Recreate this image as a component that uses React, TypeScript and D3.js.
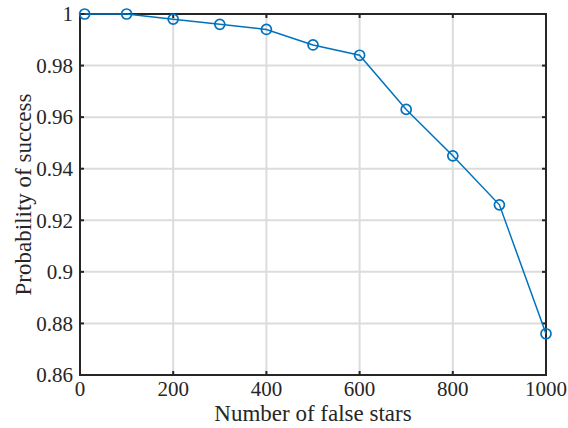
import { useEffect, useRef } from 'react';
import * as d3 from 'd3';

// false star counts and success probabilities
const falseStars = [10, 100, 200, 300, 400, 500, 600, 700, 800, 900, 1000];
const successProb = [1, 1, 0.998, 0.996, 0.994, 0.988, 0.984, 0.963, 0.945, 0.926, 0.876];
const xTicks = [0, 200, 400, 600, 800, 1000];
const yTicks = [0.86, 0.88, 0.9, 0.92, 0.94, 0.96, 0.98, 1];

const App = () => {
  const ref = useRef<SVGSVGElement>(null);

  useEffect(() => {
    const width = 568;
    const height = 428;
    const m = { top: 14, right: 22, bottom: 53, left: 80 };

    const svg = d3.select(ref.current);
    svg.selectAll('*').remove();

    const x = d3.scaleLinear().domain([0, 1000]).range([m.left, width - m.right]);
    const y = d3.scaleLinear().domain([0.86, 1]).range([height - m.bottom, m.top]);
    const font = '"Liberation Serif", "Times New Roman", serif';
    const axisColor = '#262626';

    svg.append('rect').attr('width', width).attr('height', height).attr('fill', '#fff');

    // grid
    const grid = svg.append('g').attr('stroke', '#dcdcdc').attr('stroke-width', 2);
    grid
      .selectAll('line.gx')
      .data(xTicks)
      .join('line')
      .attr('class', 'gx')
      .attr('x1', (d) => x(d))
      .attr('x2', (d) => x(d))
      .attr('y1', y(0.86))
      .attr('y2', y(1));
    grid
      .selectAll('line.gy')
      .data(yTicks)
      .join('line')
      .attr('class', 'gy')
      .attr('x1', x(0))
      .attr('x2', x(1000))
      .attr('y1', (d) => y(d))
      .attr('y2', (d) => y(d));

    // box
    svg
      .append('rect')
      .attr('x', x(0))
      .attr('y', y(1))
      .attr('width', x(1000) - x(0))
      .attr('height', y(0.86) - y(1))
      .attr('fill', 'none')
      .attr('stroke', axisColor)
      .attr('stroke-width', 2);

    // inward ticks
    const ticks = svg.append('g').attr('stroke', axisColor).attr('stroke-width', 2);
    xTicks.forEach((t) => {
      ticks.append('line').attr('x1', x(t)).attr('x2', x(t)).attr('y1', y(0.86)).attr('y2', y(0.86) - 4);
      ticks.append('line').attr('x1', x(t)).attr('x2', x(t)).attr('y1', y(1)).attr('y2', y(1) + 4);
    });
    yTicks.forEach((t) => {
      ticks.append('line').attr('x1', x(0)).attr('x2', x(0) + 4).attr('y1', y(t)).attr('y2', y(t));
      ticks.append('line').attr('x1', x(1000)).attr('x2', x(1000) - 4).attr('y1', y(t)).attr('y2', y(t));
    });

    // tick labels
    svg
      .append('g')
      .selectAll('text')
      .data(xTicks)
      .join('text')
      .attr('x', (d) => x(d))
      .attr('y', y(0.86) + 21)
      .attr('text-anchor', 'middle')
      .attr('font-family', font)
      .attr('font-size', 21)
      .attr('fill', axisColor)
      .text((d) => d);
    svg
      .append('g')
      .selectAll('text')
      .data(yTicks)
      .join('text')
      .attr('x', x(0) - 7)
      .attr('y', (d) => y(d))
      .attr('dy', '0.35em')
      .attr('text-anchor', 'end')
      .attr('font-family', font)
      .attr('font-size', 21)
      .attr('fill', axisColor)
      .text((d) => String(d));

    // axis titles
    svg
      .append('text')
      .attr('x', (x(0) + x(1000)) / 2)
      .attr('y', 421)
      .attr('text-anchor', 'middle')
      .attr('font-family', font)
      .attr('font-size', 23)
      .attr('fill', axisColor)
      .text('Number of false stars');
    svg
      .append('text')
      .attr('transform', `translate(31,${(y(0.86) + y(1)) / 2}) rotate(-90)`)
      .attr('text-anchor', 'middle')
      .attr('font-family', font)
      .attr('font-size', 23)
      .attr('fill', axisColor)
      .text('Probability of success');

    // series
    const pts = falseStars.map((d, i) => [d, successProb[i]] as [number, number]);
    const line = d3
      .line<[number, number]>()
      .x((d) => x(d[0]))
      .y((d) => y(d[1]));
    svg
      .append('path')
      .datum(pts)
      .attr('d', line)
      .attr('fill', 'none')
      .attr('stroke', '#0072BD')
      .attr('stroke-width', 1.5);
    svg
      .append('g')
      .selectAll('circle')
      .data(pts)
      .join('circle')
      .attr('cx', (d) => x(d[0]))
      .attr('cy', (d) => y(d[1]))
      .attr('r', 5)
      .attr('fill', 'none')
      .attr('stroke', '#0072BD')
      .attr('stroke-width', 1.7);
  }, []);

  return <svg ref={ref} width={568} height={428} style={{ display: 'block', position: 'absolute', left: 0, top: 0 }} />;
};

export default App;
